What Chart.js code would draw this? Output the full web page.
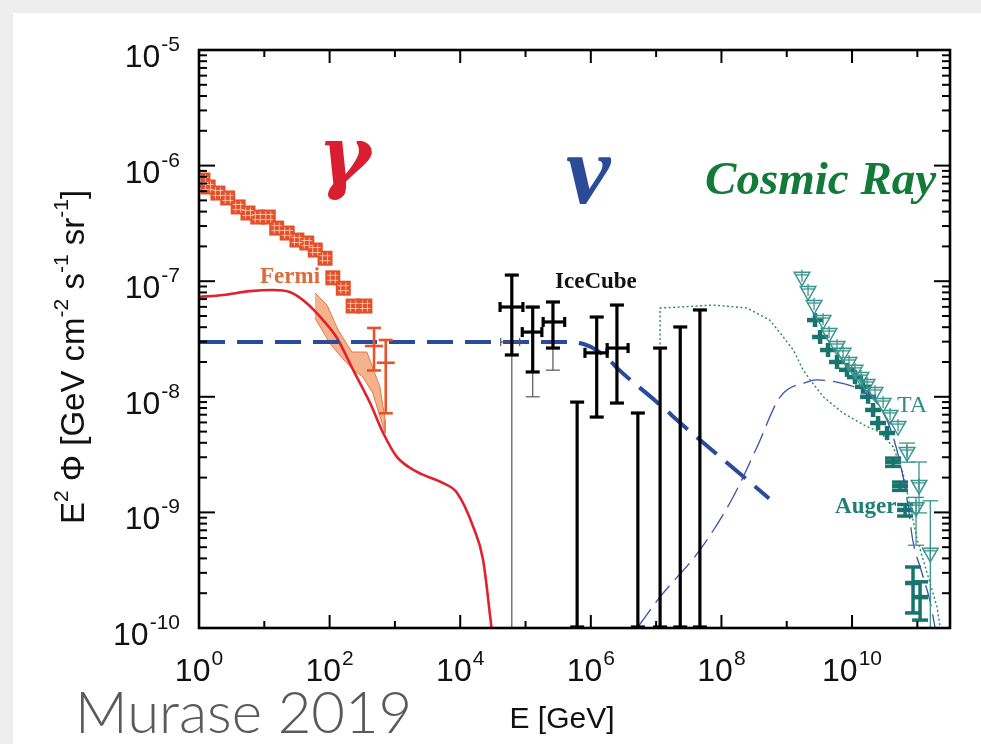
<!DOCTYPE html>
<html>
<head>
<meta charset="utf-8">
<script src="https://cdn.jsdelivr.net/npm/chart.js@4.4.1/dist/chart.umd.min.js"></script>
<style>
  html, body { margin: 0; padding: 0; background: #ffffff; }
  #wrap { width: 981px; height: 744px; }
</style>
</head>
<body>
<div id="wrap"><canvas id="c" width="981" height="744"></canvas></div>
<script>
// ---------- axis ranges and tick labels ----------
const xMin = 1, xMax = 3.162e11;
const yMin = 1e-10, yMax = 1e-5;
const xTickExps = [0, 2, 4, 6, 8, 10];
const yTickExps = [-10, -9, -8, -7, -6, -5];

// ---------- Fermi-LAT isotropic gamma-ray background (E [GeV], E^2 Phi) ----------
const fermiE    = [1.15, 1.38, 1.95, 2.75, 3.98, 5.62, 7.94, 11.5, 15.5, 22.4, 31.6, 44.7, 60.3, 85.1, 112, 162, 229, 347];
const fermiFlux = [7.5e-7, 6.53e-7, 5.79e-7, 5.25e-7, 4.39e-7, 3.89e-7, 3.59e-7, 3.59e-7, 2.88e-7, 2.61e-7,
                   2.27e-7, 2.14e-7, 1.86e-7, 1.58e-7, 1.07e-7, 8.7e-8, 6.1e-8, 6.1e-8];
// highest-energy Fermi bins with error bars
const fermiHiE    = [479, 724];
const fermiHiFlux = [2.75e-8, 1.97e-8];
const fermiHiLo   = [1.69e-8, 7.2e-9];
const fermiHiUp   = [3.94e-8, 3.1e-8];
// systematic band
const bandUpE    = [59.7, 91.2, 135, 219, 372, 589, 708];
const bandUpFlux = [7.91e-8, 6.22e-8, 3.78e-8, 2.44e-8, 2.44e-8, 1.22e-8, 6.3e-9];
const bandLoE    = [59.7, 100, 155, 229, 324, 457, 708];
const bandLoFlux = [4.81e-8, 2.92e-8, 2.17e-8, 1.71e-8, 1.48e-8, 1.08e-8, 4.86e-9];

// ---------- model curves ----------
const gammaModelE    = [1, 2.34, 6.03, 13.5, 24.5, 44.7, 79.4, 129, 229, 417, 661, 1072, 2188, 5495, 8913, 15849, 22387, 28840, 33113];
const gammaModelFlux = [7.3e-8, 7.6e-8, 8.2e-8, 8.4e-8, 8.07e-8, 6.46e-8, 4.61e-8, 3.24e-8, 1.71e-8, 8.83e-9,
                        4.86e-9, 3.02e-9, 2.24e-9, 1.79e-9, 1.48e-9, 7.48e-10, 3.89e-10, 1.24e-10, 6.3e-11];

const nuModelE    = [1, 3.98e5, 7.94e5, 1.26e6, 2.0e6, 2.51e6, 1e7, 3.16e7, 1e8, 3.16e8, 5.37e8];
const nuModelFlux = [2.98e-8, 2.98e-8, 2.85e-8, 2.51e-8, 2.04e-8, 1.78e-8, 9.12e-9, 5.13e-9, 2.95e-9, 1.70e-9, 1.32e-9];

const crNuE    = [1.15e7, 1.15e7, 2.34e7, 7.41e7, 2.45e8, 5.5e8, 7.94e8, 1.26e9, 1.78e9, 2.29e9, 3.63e9, 7.24e9,
                  1.70e10, 2.69e10, 4.27e10, 6.03e10, 7.76e10, 1.0e11, 1.41e11, 2.0e11, 2.24e11];
const crNuFlux = [1e-10, 5.86e-8, 5.98e-8, 6.22e-8, 5.86e-8, 4.61e-8, 3.56e-8, 2.54e-8, 1.71e-8, 1.40e-8, 1.0e-8, 7.24e-9,
                  5.5e-9, 4.97e-9, 3.68e-9, 2.19e-9, 1.11e-9, 5.77e-10, 2.99e-10, 1.52e-10, 1.0e-10];

const crModelE    = [5.25e6, 1.15e7, 4.68e7, 1.51e8, 3.51e8, 7.94e8, 2.04e9, 2.88e9, 6.61e9, 1.32e10, 2.69e10,
                     4.17e10, 6.03e10, 7.24e10, 8.51e10, 1.17e11, 1.55e11, 1.86e11];
const crModelFlux = [1.02e-10, 1.86e-10, 4.73e-10, 1.36e-9, 3.68e-9, 1e-8, 1.34e-8, 1.40e-8, 1.32e-8, 1.15e-8, 8.13e-9,
                     4.68e-9, 2.04e-9, 1.12e-9, 5.75e-10, 3.02e-10, 1.74e-10, 1.02e-10];

// ---------- IceCube ----------
const icE    = [61660, 128825, 263027, 1.23e6, 2.51e6];
const icElo  = [40738, 89125, 186209, 8.13e5, 1.78e6];
const icEhi  = [91201, 177828, 398107, 1.78e6, 3.72e6];
const icFlux = [5.98e-8, 3.63e-8, 4.44e-8, 2.40e-8, 2.64e-8];
const icLo   = [2.30e-8, 1.64e-8, 2.64e-8, 6.68e-9, 8.83e-9];
const icHi   = [1.13e-7, 5.98e-8, 6.61e-8, 4.90e-8, 6.22e-8];
const icUlE    = [6.17e5, 5.25e6, 1.15e7, 2.34e7, 4.68e7];
const icUlFlux = [9.0e-9, 7.24e-9, 2.64e-8, 4.02e-8, 5.64e-8];
// second IceCube analysis (thin bars)
const ic2E    = [61660, 128825, 263027];
const ic2Elo  = [41687, null, null];
const ic2Ehi  = [81283, null, null];
const ic2Flux = [2.98e-8, 2.82e-8, 3.39e-8];
const ic2Lo   = [1e-11, 1.0e-8, 1.7e-8];
const ic2Hi   = [null, 5.9e-8, 6.6e-8];

// ---------- UHECR: Telescope Array and Pierre Auger ----------
const taE    = [1.71e9, 2.12e9, 2.62e9, 3.60e9, 4.45e9, 5.89e9, 7.28e9, 8.99e9, 1.11e10, 1.37e10, 1.70e10,
                2.25e10, 2.99e10, 3.82e10, 5.06e10, 6.95e10, 9.55e10, 1.06e11, 1.58e11];
const taFlux = [1.09e-7, 8.22e-8, 6.22e-8, 4.61e-8, 3.56e-8, 2.75e-8, 2.40e-8, 2.00e-8, 1.71e-8, 1.48e-8, 1.29e-8,
                1.10e-8, 8.83e-9, 6.97e-9, 5.58e-9, 3.33e-9, 1.11e-9, 1.73e-9, 4.47e-10];
const taLo   = [null, null, null, null, null, null, null, null, null, null, null,
                null, null, null, null, 2.72e-9, 5.2e-10, 9.9e-10, 1e-11];
const taHi   = [null, null, null, null, null, null, null, null, null, null, null,
                null, null, null, null, 3.98e-9, 1.35e-9, 2.73e-9, 1.26e-9];

const augerE    = [2.71e9, 3.24e9, 4.29e9, 5.89e9, 8.37e9, 1.11e10, 1.47e10, 1.76e10, 2.10e10, 2.50e10, 3.44e10,
                   4.25e10, 5.43e10, 6.49e10, 8.59e10, 1.10e11];
const augerFlux = [4.61e-8, 3.29e-8, 2.54e-8, 2.00e-8, 1.71e-8, 1.48e-8, 1.22e-8, 1.0e-8, 7.69e-9, 5.93e-9, 4.86e-9,
                   2.73e-9, 1.69e-9, 1.05e-9, 2.45e-10, 1.85e-10];
const augerLo   = [null, null, null, null, null, null, null, null, null, null, null,
                   2.5e-9, 1.55e-9, 9.3e-10, 1.35e-10, 1.17e-10];
const augerHi   = [null, null, null, null, null, null, null, null, null, null, null,
                   2.95e-9, 1.83e-9, 1.17e-9, 3.37e-10, 2.51e-10];

// ---------- helpers ----------
const pts = (xs, ys) => xs.map((x, i) => ({ x: x, y: ys[i] }));
const bandShape = pts(bandUpE, bandUpFlux).concat(pts(bandLoE, bandLoFlux).reverse());

const SANS = '"Liberation Sans", Arial, sans-serif';
const SERIF = '"Liberation Serif", "Times New Roman", serif';

function seg(ctx, x0, y0, x1, y1) {
  ctx.beginPath(); ctx.moveTo(x0, y0); ctx.lineTo(x1, y1); ctx.stroke();
}
function vbar(ctx, x, y0, y1, cap) {
  seg(ctx, x, y0, x, y1);
  if (cap) { seg(ctx, x - cap, y0, x + cap, y0); seg(ctx, x - cap, y1, x + cap, y1); }
}
function hbar(ctx, y, x0, x1, cap) {
  seg(ctx, x0, y, x1, y);
  if (cap) { seg(ctx, x0, y - cap, x0, y + cap); seg(ctx, x1, y - cap, x1, y + cap); }
}
// "10" with a raised exponent; align: 'center' or 'right'
function powerLabel(ctx, exp, x, yBase, align) {
  ctx.font = '32px ' + SANS;
  const wb = ctx.measureText('10').width;
  ctx.font = '21px ' + SANS;
  const we = ctx.measureText(String(exp)).width;
  const total = wb + we + 1;
  const left = align === 'right' ? x - total : x - total / 2;
  ctx.textAlign = 'left';
  ctx.textBaseline = 'alphabetic';
  ctx.font = '32px ' + SANS;
  ctx.fillText('10', left, yBase);
  ctx.font = '21px ' + SANS;
  ctx.fillText(String(exp), left + wb + 1, yBase - 16);
}

const ink = {
  id: 'ink',
  beforeDraw(chart) {
    const { ctx, width, height } = chart;
    ctx.save();
    ctx.fillStyle = '#eeeeee';
    ctx.fillRect(0, 0, width, height);
    ctx.fillStyle = '#ffffff';
    ctx.fillRect(13, 13, width - 13, height - 13);
    ctx.restore();
  },
  beforeDatasetsDraw(chart) {
    const { ctx, chartArea: a } = chart;
    const X = v => chart.scales.x.getPixelForValue(v);
    const Y = v => chart.scales.y.getPixelForValue(v);
    ctx.save();
    ctx.beginPath(); ctx.rect(a.left, a.top, a.right - a.left, a.bottom - a.top); ctx.clip();
    // Auger: bold crosses
    ctx.strokeStyle = '#17756d';
    ctx.lineCap = 'butt';
    augerE.forEach((e, i) => {
      const x = X(e), y = Y(augerFlux[i]);
      ctx.lineWidth = 4.5;
      seg(ctx, x - 8, y, x + 8, y);
      if (augerLo[i] !== null) {
        ctx.lineWidth = 3.5;
        vbar(ctx, x, Y(augerHi[i]), Y(augerLo[i]), 8);
      } else {
        ctx.lineWidth = 4.5;
        seg(ctx, x, y - 7, x, y + 7);
      }
    });
    ctx.restore();
  },
  afterDatasetsDraw(chart) {
    const { ctx, chartArea: a } = chart;
    const X = v => chart.scales.x.getPixelForValue(v);
    const Y = v => chart.scales.y.getPixelForValue(v);
    ctx.save();
    ctx.beginPath(); ctx.rect(a.left, a.top, a.right - a.left, a.bottom - a.top); ctx.clip();

    // Fermi: hatched square markers
    fermiE.forEach((e, i) => {
      const x = X(e), y = Y(fermiFlux[i]);
      ctx.fillStyle = '#e3502a';
      ctx.fillRect(x - 7.5, y - 7.5, 15, 15);
    });
    fermiE.forEach((e, i) => {
      const x = X(e), y = Y(fermiFlux[i]);
      ctx.strokeStyle = 'rgba(255,205,185,0.85)';
      ctx.lineWidth = 1;
      [-2.5, 2.5].forEach(d => {
        seg(ctx, x + d, y - 5.5, x + d, y + 5.5);
        seg(ctx, x - 5.5, y + d, x + 5.5, y + d);
      });
    });
    ctx.strokeStyle = '#e4532c';
    ctx.lineWidth = 2.6;
    fermiHiE.forEach((e, i) => {
      const x = X(e), y = Y(fermiHiFlux[i]);
      vbar(ctx, x, Y(fermiHiUp[i]), Y(fermiHiLo[i]), 7);
      seg(ctx, x - 9, y, x + 9, y);
    });

    // IceCube (thin analysis)
    ctx.strokeStyle = '#555555';
    ctx.lineWidth = 1.2;
    ic2E.forEach((e, i) => {
      const x = X(e), y = Y(ic2Flux[i]);
      const top = ic2Hi[i] !== null ? Y(ic2Hi[i]) : y;
      vbar(ctx, x, top, Y(ic2Lo[i]), 0);
      if (ic2Hi[i] !== null) seg(ctx, x - 7, top, x + 7, top);
      seg(ctx, x - 7, Y(ic2Lo[i]), x + 7, Y(ic2Lo[i]));
      if (ic2Elo[i] !== null) hbar(ctx, y, X(ic2Elo[i]), X(ic2Ehi[i]), 4);
    });

    // IceCube data points and upper limits
    ctx.strokeStyle = '#000000';
    ctx.lineWidth = 3.2;
    icE.forEach((e, i) => {
      const x = X(e), y = Y(icFlux[i]);
      vbar(ctx, x, Y(icHi[i]), Y(icLo[i]), 7);
      hbar(ctx, y, X(icElo[i]), X(icEhi[i]), 5);
    });
    icUlE.forEach((e, i) => {
      const x = X(e);
      vbar(ctx, x, Y(icUlFlux[i]), a.bottom - 1, 7);
    });

    // Telescope Array error bars and inner crosses
    ctx.strokeStyle = '#3a958e';
    ctx.lineWidth = 1.3;
    taE.forEach((e, i) => {
      const x = X(e), y = Y(taFlux[i]);
      seg(ctx, x - 7, y - 2, x + 7, y - 2);
      seg(ctx, x, y - 7, x, y + 5);
      if (taLo[i] !== null) vbar(ctx, x, Y(taHi[i]), Y(taLo[i]), 8);
    });
    ctx.restore();

    // frame and inward ticks
    ctx.save();
    ctx.strokeStyle = '#000000';
    ctx.lineWidth = 2;
    for (let k = 0; k <= 11; k++) {
      const x = X(Math.pow(10, k));
      const len = k % 2 === 0 ? 13 : 7;
      seg(ctx, x, a.bottom, x, a.bottom - len);
      seg(ctx, x, a.top, x, a.top + len);
    }
    for (let k = -10; k <= -6; k++) {
      for (let m = 1; m <= 9; m++) {
        const y = Y(m * Math.pow(10, k));
        const len = m === 1 ? 16 : 8;
        seg(ctx, a.left, y, a.left + len, y);
        seg(ctx, a.right, y, a.right - len, y);
      }
    }
    ctx.lineWidth = 2.6;
    ctx.strokeRect(a.left, a.top, a.right - a.left, a.bottom - a.top);
    ctx.restore();
  },
  afterDraw(chart) {
    const { ctx, chartArea: a } = chart;
    const X = v => chart.scales.x.getPixelForValue(v);
    const Y = v => chart.scales.y.getPixelForValue(v);
    ctx.save();
    ctx.fillStyle = '#111111';
    xTickExps.forEach(e => powerLabel(ctx, e, X(Math.pow(10, e)), a.bottom + 53, 'center'));
    yTickExps.forEach(e => powerLabel(ctx, e, a.left - 19, Y(Math.pow(10, e)) + 17, 'right'));

    // x-axis title
    ctx.font = '30px ' + SANS;
    ctx.textAlign = 'center';
    ctx.fillText('E [GeV]', 562, 728);

    // y-axis title with superscripts
    const parts = [['E', 0], ['2', 1], [' \u03A6 [GeV cm', 0], ['-2', 1], [' s', 0], ['-1', 1], [' sr', 0], ['-1', 1], [']', 0]];
    const fMain = '33px ' + SANS, fSup = '21px ' + SANS;
    let total = 0;
    parts.forEach(p => { ctx.font = p[1] ? fSup : fMain; total += ctx.measureText(p[0]).width; });
    ctx.translate(84, 357);
    ctx.rotate(-Math.PI / 2);
    ctx.textAlign = 'left';
    let cx = -total / 2;
    parts.forEach(p => {
      ctx.font = p[1] ? fSup : fMain;
      ctx.fillText(p[0], cx, p[1] ? -16 : 0);
      cx += ctx.measureText(p[0]).width;
    });
    ctx.setTransform(1, 0, 0, 1, 0, 0);

    // in-plot annotations, anchored in data coordinates
    const notes = [
      { t: '\u03B3', e: 66.4, f: 7.08e-7, font: 'italic bold 80px "DejaVu Serif", ' + SERIF, c: '#d81e30' },
      { t: '\u03BD', e: 4.17e5, f: 4.75e-7, font: 'italic bold 100px ' + SERIF, c: '#2b4a98' },
      { t: 'Cosmic Ray', e: 5.62e7, f: 5.68e-7, font: 'italic bold 47px ' + SERIF, c: '#137a3a' },
      { t: 'Fermi', e: 8.6, f: 9.64e-8, font: 'bold 23px ' + SERIF, c: '#e06a3a' },
      { t: 'IceCube', e: 2.83e5, f: 8.73e-8, font: 'bold 23px ' + SERIF, c: '#111111' },
      { t: 'TA', e: 4.9e10, f: 7.4e-9, font: '24px ' + SERIF, c: '#2e8e87' },
      { t: 'Auger', e: 5.5e9, f: 9.9e-10, font: 'bold 23px ' + SERIF, c: '#1f7f75' }
    ];
    ctx.textAlign = 'left';
    ctx.textBaseline = 'alphabetic';
    notes.forEach(n => {
      ctx.font = n.font;
      ctx.fillStyle = n.c;
      ctx.fillText(n.t, X(n.e), Y(n.f));
    });

    // citation
    ctx.font = '300 58px Lato, "Open Sans", sans-serif';
    ctx.fillStyle = '#5a5a5a';
    ctx.fillText('Murase 2019', 75, 733);
    ctx.restore();
  }
};

new Chart(document.getElementById('c'), {
  type: 'scatter',
  data: {
    datasets: [
      { // Fermi systematic band
        data: bandShape, showLine: true, fill: 'shape', tension: 0,
        backgroundColor: 'rgba(240,150,95,0.72)', borderColor: '#e8774a', borderWidth: 1,
        pointRadius: 0, order: 6
      },
      { // gamma-ray model
        data: pts(gammaModelE, gammaModelFlux), showLine: true, cubicInterpolationMode: 'monotone',
        borderColor: '#e0222e', borderWidth: 2.6, pointRadius: 0, order: 5
      },
      { // neutrino model
        data: pts(nuModelE, nuModelFlux), showLine: true, cubicInterpolationMode: 'monotone',
        borderColor: '#2a4b9b', borderWidth: 4, borderDash: [26, 12], pointRadius: 0, order: 4
      },
      { // neutrinos from UHECR interactions
        data: pts(crNuE, crNuFlux), showLine: true, tension: 0,
        borderColor: '#2a8a50', borderWidth: 1.4, borderDash: [2, 2.5], pointRadius: 0, order: 3
      },
      { // UHECR model spectrum
        data: pts(crModelE, crModelFlux), showLine: true, cubicInterpolationMode: 'monotone',
        borderColor: '#3a52a8', borderWidth: 1.3, borderDash: [22, 8], pointRadius: 0, order: 2
      },
      { // Telescope Array
        data: pts(taE, taFlux), showLine: false,
        pointStyle: 'triangle', rotation: 180, pointRadius: 9,
        borderColor: '#3a958e', borderWidth: 1.5, backgroundColor: 'rgba(255,255,255,0)', order: 1
      }
    ]
  },
  options: {
    responsive: false,
    animation: false,
    events: [],
    devicePixelRatio: 1,
    layout: { padding: { left: 199, top: 50, right: 31, bottom: 116 } },
    scales: {
      x: { type: 'logarithmic', min: xMin, max: xMax, display: false },
      y: { type: 'logarithmic', min: yMin, max: yMax, display: false }
    },
    plugins: { legend: { display: false }, tooltip: { enabled: false } }
  },
  plugins: [ink]
});
</script>
</body>
</html>
